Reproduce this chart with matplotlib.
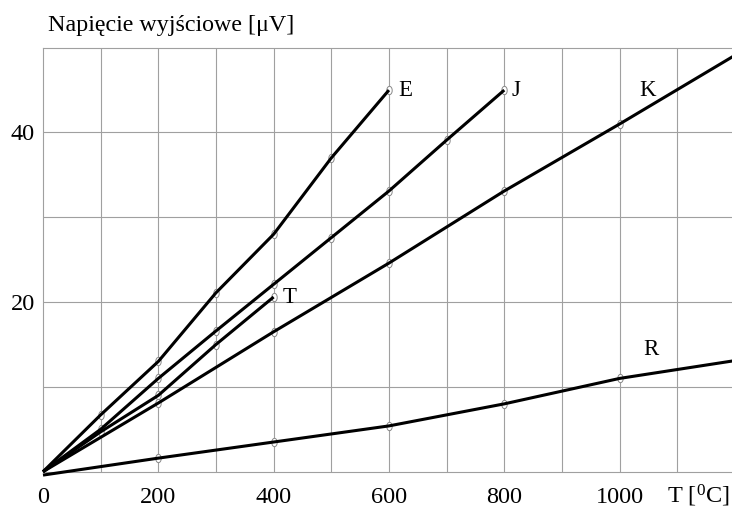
import numpy as np
import matplotlib
matplotlib.use("Agg")
import matplotlib.pyplot as plt
from matplotlib.path import Path

plt.rcParams['font.family'] = ['Liberation Serif', 'DejaVu Serif']
plt.rcParams['mathtext.fontset'] = 'custom'
plt.rcParams['mathtext.rm'] = 'Liberation Serif'
plt.rcParams['mathtext.it'] = 'Liberation Serif'

# T [C] -> napiecie
E_t = [0, 100, 200, 300, 400, 500, 600]
E_v = [0, 6.7, 13.0, 21.1, 28.0, 37.0, 45.0]
J_t = [0, 100, 200, 300, 400, 500, 600, 700, 800]
J_v = [0, 5.0, 11.0, 16.6, 22.1, 27.6, 33.1, 39.1, 45.0]
T_t = [0, 100, 200, 300, 400]
T_v = [0, 4.7, 9.0, 15.0, 20.6]
K_t = [0, 200, 400, 600, 800, 1000, 1200]
K_v = [0, 8.1, 16.5, 24.6, 33.1, 41.0, 49.1]
R_t = [0, 200, 400, 600, 800, 1000, 1200]
R_v = [-0.4, 1.6, 3.5, 5.4, 8.0, 11.0, 13.1]

x_labels = [0, 200, 400, 600, 800, 1000]
y_labels = [20, 40]

series = [
    ('E', E_t, E_v, False),
    ('J', J_t, J_v, False),
    ('T', T_t, T_v, False),
    ('K', K_t, K_v, True),
    ('R', R_t, R_v, True),
]

fig = plt.figure(figsize=(7.32, 5.09), dpi=100)
ax = fig.add_axes([43/732, 1 - 471.7/509, 1 - 43/732, (471.7 - 47.7)/509])
ax.set_xlim(0, 1195)
ax.set_ylim(0, 50)

# siatka
grid_c = '#a0a0a0'
for x in range(100, 1200, 100):
    ax.axvline(x, color=grid_c, lw=0.8, zorder=1)
for y in range(10, 50, 10):
    ax.axhline(y, color=grid_c, lw=0.8, zorder=1)
ax.spines['right'].set_visible(False)
for s in ['left', 'top', 'bottom']:
    ax.spines[s].set_color(grid_c)
    ax.spines[s].set_linewidth(0.8)

# znacznik - mala elipsa
a = np.linspace(0, 2*np.pi, 30)
ell = Path(np.column_stack([0.65*np.cos(a), np.sin(a)]))

for name, t, v, extra in series:
    ax.plot(t, v, color='black', lw=2.2, zorder=3, clip_on=False, solid_capstyle='butt')
    mt = t[1:-1] if extra else t[1:]
    mv = v[1:-1] if extra else v[1:]
    ax.plot(mt, mv, ls='none', marker=ell, ms=6, mfc='white', mec='#888888',
            mew=0.7, zorder=2)

# opisy krzywych
lab_fs = 16.5
ax.text(628, 45.0, 'E', fontsize=lab_fs, ha='center', va='center')
ax.text(821, 45.0, 'J', fontsize=lab_fs, ha='center', va='center')
ax.text(1049, 45.0, 'K', fontsize=lab_fs, ha='center', va='center')
ax.text(427, 20.5, 'T', fontsize=lab_fs, ha='center', va='center')
ax.text(1054, 14.4, 'R', fontsize=lab_fs, ha='center', va='center')

ax.set_xticks(x_labels)
ax.set_xticklabels([str(x) for x in x_labels], fontsize=17.5)
ax.set_yticks(y_labels)
ax.set_yticklabels([str(y) for y in y_labels], fontsize=17.5)
ax.tick_params(axis='x', length=0, pad=11)
ax.tick_params(axis='y', length=0, pad=6)

fig.text(48/732, 1 - 31/509, 'Napięcie wyjściowe [μV]', fontsize=17.3,
         ha='left', va='baseline')
ax.text(1137, -2.85, 'T [$^0$C]', fontsize=17.5, ha='center', va='center')

fig.savefig('out.png', dpi=100)
